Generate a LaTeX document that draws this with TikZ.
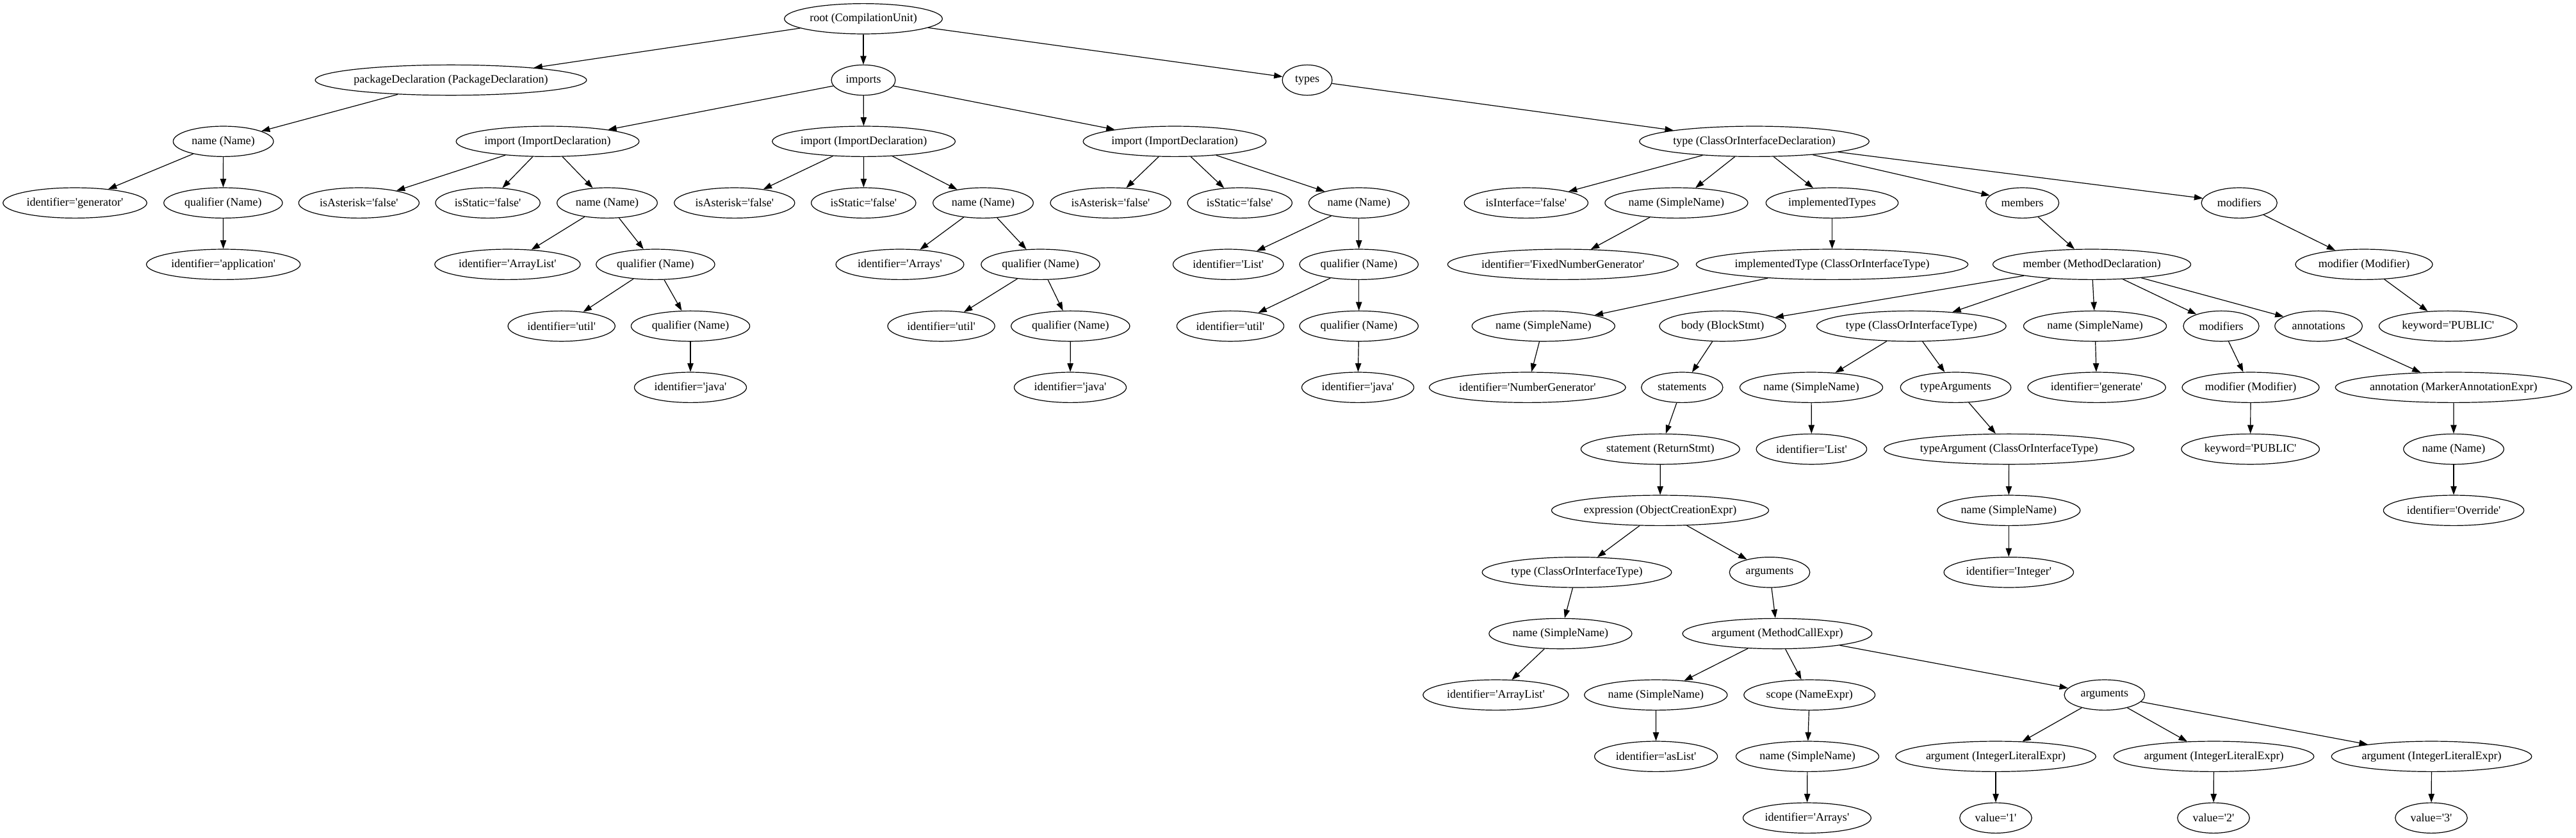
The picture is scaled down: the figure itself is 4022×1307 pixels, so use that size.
\documentclass[tikz,border=0pt]{standalone}
\usepackage{fontspec}
\usetikzlibrary{shapes.geometric,arrows.meta}
\newfontfamily\gvfam{Liberation Serif}[Ligatures=TeXOff]
\newcommand\gvfont{\gvfam\fontsize{13.5pt}{16pt}\selectfont}
\newlength\gvw
\newcommand\gvnode[3]{%
  \pgfinterruptpicture
    \settowidth{\gvw}{\gvfont #3}%
    \global\gvw=\gvw
  \endpgfinterruptpicture
  \pgfmathsetlengthmacro\gvwd{1.304*\gvw+21.15pt}%
  \node[gvbox, minimum width=\gvwd] (#1) at (#2) {\makebox[0pt]{#3}};%
}
\tikzset{
  gvbox/.style={draw, ellipse, line width=0.9pt, inner sep=0pt, minimum height=35.5pt, font=\gvfont},
  gvedge/.style={draw, line width=0.9pt, -{Triangle[length=10pt,width=7pt]}},
}
\begin{document}
\begin{tikzpicture}[x=0.75pt, y=-0.75pt]
\fill[white] (0,0) rectangle (4022,1307);
\useasboundingbox (0,0) rectangle (4022,1307);
% level 0
\gvnode{root}{1348,29.3}{root (CompilationUnit)}
% level 1
\gvnode{pkg}{704,125}{packageDeclaration (PackageDeclaration)}
\gvnode{imports}{1348,125}{imports}
\gvnode{types}{2041,125}{types}
% level 2
\gvnode{pkgname}{348.7,220.7}{name (Name)}
\gvnode{imp1}{855,220.7}{import (ImportDeclaration)}
\gvnode{imp2}{1348.6,220.7}{import (ImportDeclaration)}
\gvnode{imp3}{1834,220.7}{import (ImportDeclaration)}
\gvnode{typedecl}{2739,220.7}{type (ClassOrInterfaceDeclaration)}
% level 3
\gvnode{idgen}{117,316.7}{identifier='generator'}
\gvnode{pkgqual}{348.4,316.7}{qualifier (Name)}
\gvnode{ast1}{560.4,316.7}{isAsterisk='false'}
\gvnode{sta1}{761.6,316.7}{isStatic='false'}
\gvnode{n1}{948,316.7}{name (Name)}
\gvnode{ast2}{1146.8,316.7}{isAsterisk='false'}
\gvnode{sta2}{1348.3,316.7}{isStatic='false'}
\gvnode{n2}{1535,316.7}{name (Name)}
\gvnode{ast3}{1734,316.7}{isAsterisk='false'}
\gvnode{sta3}{1935.7,316.7}{isStatic='false'}
\gvnode{n3}{2121.7,316.7}{name (Name)}
\gvnode{isif}{2382.8,316.7}{isInterface='false'}
\gvnode{tname}{2617.4,316.7}{name (SimpleName)}
\gvnode{impltypes}{2860.5,316.7}{implementedTypes}
\gvnode{members}{3157.5,316.7}{members}
\gvnode{tmods}{3496.2,316.7}{modifiers}
% level 4
\gvnode{idapp}{348.7,412.7}{identifier='application'}
\gvnode{idal1}{792.4,412.7}{identifier='ArrayList'}
\gvnode{q1}{1023.4,412.7}{qualifier (Name)}
\gvnode{idarr1}{1405,412.7}{identifier='Arrays'}
\gvnode{q2}{1624.5,412.7}{qualifier (Name)}
\gvnode{idlist1}{1917.7,412.7}{identifier='List'}
\gvnode{q3}{2121.7,412.7}{qualifier (Name)}
\gvnode{idfng}{2440.3,412.7}{identifier='FixedNumberGenerator'}
\gvnode{impltype}{2860.5,412.7}{implementedType (ClassOrInterfaceType)}
\gvnode{member}{3266,412.7}{member (MethodDeclaration)}
\gvnode{tmod}{3691,412.7}{modifier (Modifier)}
% level 5
\gvnode{idutil1}{876.7,509}{identifier='util'}
\gvnode{q1b}{1078,509}{qualifier (Name)}
\gvnode{idutil2}{1469.6,509}{identifier='util'}
\gvnode{q2b}{1671.3,509}{qualifier (Name)}
\gvnode{idutil3}{1921,509}{identifier='util'}
\gvnode{q3b}{2121.7,509}{qualifier (Name)}
\gvnode{itname}{2409.8,509}{name (SimpleName)}
\gvnode{body}{2689.5,509}{body (BlockStmt)}
\gvnode{rtype}{2984.3,509}{type (ClassOrInterfaceType)}
\gvnode{mname}{3271,509}{name (SimpleName)}
\gvnode{mmods}{3468,509}{modifiers}
\gvnode{annots}{3620,509}{annotations}
\gvnode{tkw}{3822.2,509}{keyword='PUBLIC'}
% level 6
\gvnode{idjava1}{1078,604.7}{identifier='java'}
\gvnode{idjava2}{1671,604.7}{identifier='java'}
\gvnode{idjava3}{2120,604.7}{identifier='java'}
\gvnode{idng}{2384.8,604.7}{identifier='NumberGenerator'}
\gvnode{stmts}{2626.3,604.7}{statements}
\gvnode{rtname}{2828,604.7}{name (SimpleName)}
\gvnode{targs}{3053.5,604.7}{typeArguments}
\gvnode{idgen2}{3273.6,604.7}{identifier='generate'}
\gvnode{mmod}{3514,604.7}{modifier (Modifier)}
\gvnode{annot}{3830.8,604.7}{annotation (MarkerAnnotationExpr)}
% level 7
\gvnode{retstmt}{2592.3,701}{statement (ReturnStmt)}
\gvnode{idlist2}{2828.4,701}{identifier='List'}
\gvnode{targ}{3136.7,701}{typeArgument (ClassOrInterfaceType)}
\gvnode{mkw}{3513.6,701}{keyword='PUBLIC'}
\gvnode{annname}{3831,701}{name (Name)}
% level 8
\gvnode{expr}{2592,796.7}{expression (ObjectCreationExpr)}
\gvnode{targname}{3136.3,796.7}{name (SimpleName)}
\gvnode{idover}{3831,796.7}{identifier='Override'}
% level 9
\gvnode{ctype}{2462,893.3}{type (ClassOrInterfaceType)}
\gvnode{args}{2763,893.3}{arguments}
\gvnode{idint}{3136.3,893.3}{identifier='Integer'}
% level 10
\gvnode{ctname}{2436.4,989}{name (SimpleName)}
\gvnode{mcall}{2774.9,989}{argument (MethodCallExpr)}
% level 11
\gvnode{idal2}{2335.4,1084.7}{identifier='ArrayList'}
\gvnode{mcname}{2585.3,1084.7}{name (SimpleName)}
\gvnode{scope}{2825.2,1084.7}{scope (NameExpr)}
\gvnode{args2}{3285.8,1084.7}{arguments}
% level 12
\gvnode{idaslist}{2585.6,1180.7}{identifier='asList'}
\gvnode{scname}{2822,1180.7}{name (SimpleName)}
\gvnode{arg1}{3116,1180.7}{argument (IntegerLiteralExpr)}
\gvnode{arg2}{3456.5,1180.7}{argument (IntegerLiteralExpr)}
\gvnode{arg3}{3796.5,1180.7}{argument (IntegerLiteralExpr)}
% level 13
\gvnode{idarrays2}{2821.4,1276.7}{identifier='Arrays'}
\gvnode{val1}{3116,1276.7}{value='1'}
\gvnode{val2}{3456,1276.7}{value='2'}
\gvnode{val3}{3796,1276.7}{value='3'}
% edges
\foreach \a/\b in {root/pkg, root/imports, root/types,
  pkg/pkgname, pkgname/idgen, pkgname/pkgqual, pkgqual/idapp,
  imports/imp1, imports/imp2, imports/imp3,
  imp1/ast1, imp1/sta1, imp1/n1, n1/idal1, n1/q1, q1/idutil1, q1/q1b, q1b/idjava1,
  imp2/ast2, imp2/sta2, imp2/n2, n2/idarr1, n2/q2, q2/idutil2, q2/q2b, q2b/idjava2,
  imp3/ast3, imp3/sta3, imp3/n3, n3/idlist1, n3/q3, q3/idutil3, q3/q3b, q3b/idjava3,
  types/typedecl,
  typedecl/isif, typedecl/tname, typedecl/impltypes, typedecl/members, typedecl/tmods,
  tname/idfng, impltypes/impltype, impltype/itname, itname/idng,
  members/member,
  member/body, member/rtype, member/mname, member/mmods, member/annots,
  body/stmts, stmts/retstmt, retstmt/expr,
  expr/ctype, expr/args, ctype/ctname, ctname/idal2,
  args/mcall, mcall/mcname, mcall/scope, mcall/args2,
  mcname/idaslist, scope/scname, scname/idarrays2,
  args2/arg1, args2/arg2, args2/arg3, arg1/val1, arg2/val2, arg3/val3,
  rtype/rtname, rtype/targs, rtname/idlist2, targs/targ, targ/targname, targname/idint,
  mname/idgen2, mmods/mmod, mmod/mkw,
  annots/annot, annot/annname, annname/idover,
  tmods/tmod, tmod/tkw}
  \draw[gvedge] (\a) -- (\b);
\end{tikzpicture}
\end{document}
